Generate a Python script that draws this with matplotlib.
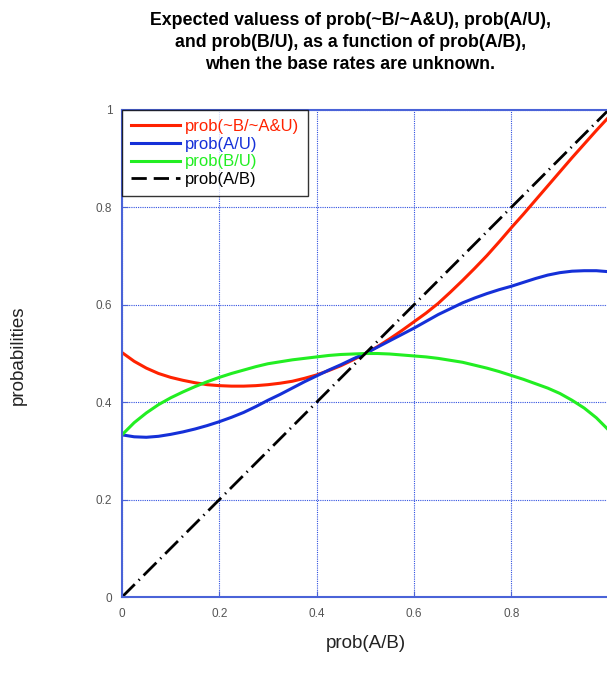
import matplotlib
matplotlib.use("Agg")
import matplotlib.pyplot as plt
from matplotlib.lines import Line2D

plt.rcParams["font.family"] = ["Liberation Sans", "DejaVu Sans"]

# prob(A/B) sample points
x_vals = [0.0, 0.025, 0.05, 0.075, 0.1, 0.125, 0.15, 0.175, 0.2, 0.225,
          0.25, 0.275, 0.3, 0.325, 0.35, 0.375, 0.4, 0.425, 0.45, 0.475,
          0.5, 0.525, 0.55, 0.575, 0.6, 0.625, 0.65, 0.675, 0.7, 0.725,
          0.75, 0.775, 0.8, 0.825, 0.85, 0.875, 0.9, 0.925, 0.95, 0.975, 1.0]

# prob(~B/~A&U)
red_vals = [0.502, 0.484, 0.470, 0.459, 0.451, 0.445, 0.440, 0.436, 0.434, 0.433,
            0.433, 0.434, 0.436, 0.439, 0.443, 0.449, 0.456, 0.465, 0.475, 0.487,
            0.500, 0.514, 0.530, 0.547, 0.565, 0.583, 0.603, 0.626, 0.650, 0.675,
            0.701, 0.729, 0.758, 0.786, 0.815, 0.844, 0.873, 0.902, 0.930, 0.958, 0.985]
# prob(A/U)
blue_vals = [0.333, 0.329, 0.328, 0.330, 0.334, 0.339, 0.345, 0.352, 0.360, 0.369,
             0.379, 0.391, 0.404, 0.416, 0.429, 0.442, 0.454, 0.466, 0.477, 0.489,
             0.500, 0.513, 0.526, 0.539, 0.552, 0.566, 0.580, 0.592, 0.604, 0.614,
             0.623, 0.631, 0.638, 0.646, 0.654, 0.661, 0.666, 0.669, 0.670, 0.670, 0.668]
# prob(B/U)
green_vals = [0.333, 0.358, 0.378, 0.395, 0.409, 0.421, 0.432, 0.442, 0.451, 0.459,
              0.466, 0.473, 0.479, 0.483, 0.487, 0.490, 0.493, 0.496, 0.498, 0.499,
              0.500, 0.500, 0.499, 0.497, 0.495, 0.493, 0.490, 0.486, 0.482, 0.476,
              0.470, 0.463, 0.455, 0.447, 0.438, 0.429, 0.418, 0.404, 0.388, 0.368, 0.343]

ticks = [0, 0.2, 0.4, 0.6, 0.8, 1]
tick_labels = ["0", "0.2", "0.4", "0.6", "0.8", "1"]

names = ["prob(~B/~A&U)", "prob(A/U)", "prob(B/U)", "prob(A/B)"]
colors = ["#ff2200", "#1530d8", "#22ee22", "black"]
axis_blue = "#4a63d8"

fig = plt.figure(figsize=(6.07, 6.81), dpi=100)
ax = fig.add_axes([0.201, 0.1233, 0.8015, 0.7152])

ax.plot(x_vals, red_vals, color=colors[0], lw=2.2)
ax.plot(x_vals, blue_vals, color=colors[1], lw=2.2)
ax.plot(x_vals, green_vals, color=colors[2], lw=2.2)
ax.plot([0, 1], [0, 1], color=colors[3], lw=2.0, dashes=(6.5, 2, 0.5, 2))

ax.set_xlim(0, 1)
ax.set_ylim(0, 1)
ax.set_xticks(ticks)
ax.set_xticklabels(tick_labels[:-1] + [""])
ax.set_yticks(ticks)
ax.set_yticklabels(tick_labels)
ax.grid(True, color="#3050e0", linestyle=(0, (1, 1)), linewidth=0.8)
ax.tick_params(direction="in", length=4, color=axis_blue, labelcolor="#555555",
               labelsize=8.5)
ax.tick_params(axis="y", pad=7)
ax.tick_params(axis="x", pad=8)
for s in ax.spines.values():
    s.set_color(axis_blue)
    s.set_linewidth(1.5)

# legend handles: the black one is shown plain dashed
handles = [Line2D([], [], color=colors[0], lw=2.2),
           Line2D([], [], color=colors[1], lw=2.2),
           Line2D([], [], color=colors[2], lw=2.2),
           Line2D([], [], color=colors[3], lw=2.0, dashes=(5.5, 2.5))]
leg = ax.legend(handles, names, loc="upper left", fontsize=12, frameon=True,
                fancybox=False, edgecolor="black", borderaxespad=0.0,
                handlelength=2.9, labelspacing=0.16, borderpad=0.55,
                handletextpad=0.3)
leg.get_frame().set_linewidth(1.0)
for txt, c in zip(leg.get_texts(), colors):
    txt.set_color(c)

fig.text(0.577, 0.982,
         "Expected valuess of prob(~B/~A&U), prob(A/U),\n"
         "and prob(B/U), as a function of prob(A/B),\n"
         "when the base rates are unknown.",
         ha="center", va="top", fontsize=12.8, fontweight="bold", linespacing=1.37)
fig.text(0.03, 0.479, "probabilities", rotation=90, ha="center", va="center",
         fontsize=13.5, color="#222222")
fig.text(0.603, 0.0558, "prob(A/B)", ha="center", va="center", fontsize=13.5,
         color="#222222")

fig.savefig("out.png", dpi=100)
